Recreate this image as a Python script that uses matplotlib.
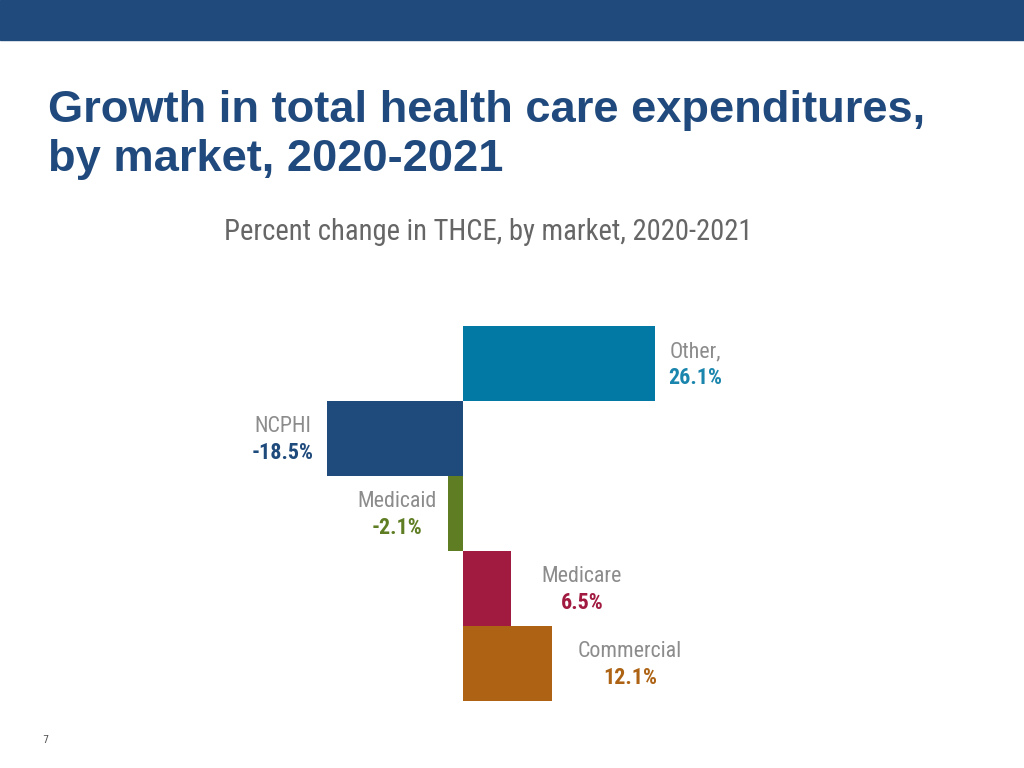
import matplotlib
matplotlib.use("Agg")
from matplotlib import pyplot as plt
from matplotlib import font_manager
from matplotlib.patches import Rectangle

markets = ["Other", "NCPHI", "Medicaid", "Medicare", "Commercial"]
name_labels = ["Other,", "NCPHI", "Medicaid", "Medicare", "Commercial"]
changes = [26.1, -18.5, -2.1, 6.5, 12.1]
colors = ["#0278a4", "#1f4a7c", "#5f7e24", "#a11a40", "#ad6313"]
value_colors = ["#1a85ad", "#1f4a7c", "#5f7e24", "#a11a40", "#ad6313"]

title = "Growth in total health care expenditures,\nby market, 2020-2021"
subtitle = "Percent change in THCE, by market, 2020-2021"


def pick_font(names):
    for n in names:
        try:
            font_manager.findfont(n, fallback_to_default=False)
            return n
        except Exception:
            pass
    return "DejaVu Sans"


bold_font = pick_font(["Liberation Sans", "Arial", "DejaVu Sans"])
narrow_font = pick_font(["Liberation Sans Narrow", "Roboto Condensed", "Liberation Sans"])

W, H = 1024, 768
fig = plt.figure(figsize=(W / 100, H / 100), dpi=100)

# top banner
fig.patches.append(Rectangle((0, 1 - 40 / H), 1, 40 / H, transform=fig.transFigure,
                             color="#214a7c", zorder=0))

fig.text(48 / W, 1 - 90 / H, title, fontsize=32.6, fontweight="bold", color="#204a7d",
         family=bold_font, va="top", ha="left", linespacing=1.245)
fig.text(224 / W, 1 - 232 / H, subtitle, fontsize=20.6, color="#666666",
         family=narrow_font, va="center", ha="left")
fig.text(42 / W, 1 - 740 / H, "7", fontsize=7, color="#555555", va="center", ha="left")

# axes: zero at x=463px, 7.36 px per percent
xmin, xmax = -25, 40
px_per = 7.36
left_px = 463 - (0 - xmin) * px_per
ax = fig.add_axes([left_px / W, (H - 701) / H, (xmax - xmin) * px_per / W, 375 / H])
ax.barh(range(len(markets)), changes, height=1.0, color=colors)
ax.set_xlim(xmin, xmax)
ax.set_ylim(len(markets) - 0.5, -0.5)
ax.axis("off")

# label centre offsets from bar end, in pixels
offsets = [40, -44, -51, 71, 78]
for i, (nm, v) in enumerate(zip(name_labels, changes)):
    dx = offsets[i] * 0.72
    ax.annotate(nm, (v, i), xytext=(dx, 12 * 0.72), textcoords="offset points",
                ha="center", va="center", fontsize=15.8, color="#8c8c8c", family=narrow_font)
    ax.annotate(f"{v:.1f}%", (v, i), xytext=(dx, -14.5 * 0.72), textcoords="offset points",
                ha="center", va="center", fontsize=15.8, fontweight="bold",
                color=value_colors[i], family=narrow_font)

fig.savefig("out.png", dpi=100)
